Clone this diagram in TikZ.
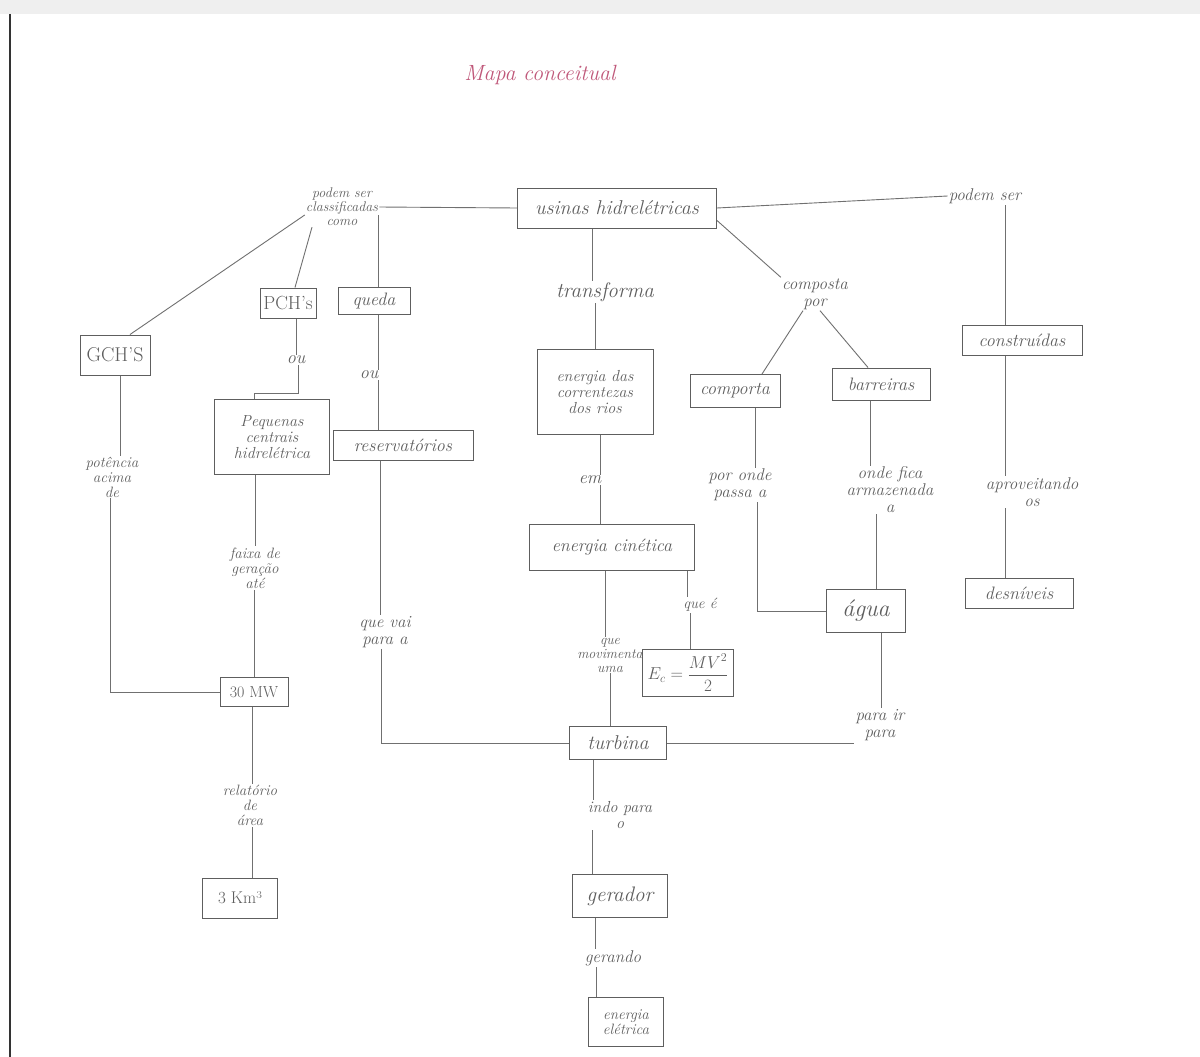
\documentclass[tikz,border=0pt]{standalone}
\usepackage{fontspec}
\definecolor{pencil}{HTML}{5E5E5E}
\definecolor{linegray}{HTML}{707070}
\definecolor{titlec}{HTML}{C0587A}
\definecolor{topband}{HTML}{EFEFEF}
\newcommand\fs[1]{\fontsize{#1}{#1}\selectfont}
% vertical connector from a (shifted) anchor down/up to the level of another anchor
\newcommand\vlink[2]{\draw[link] (#1) coordinate (tmp) -- (tmp |- #2);}
\begin{document}
\begin{tikzpicture}[x=1pt,y=-1pt,
  every node/.style={text=pencil, font=\itshape\fs{18}},
  box/.style={draw=pencil, line width=1pt, inner sep=2pt, align=center},
  lbl/.style={align=center, inner sep=1pt},
  link/.style={draw=linegray, line width=0.9pt}]
\useasboundingbox (0,0) rectangle (1200,1057);
\fill[white] (0,0) rectangle (1200,1057);
\fill[topband] (0,0) rectangle (1200,14);
\draw[black!80, line width=1.6pt] (10,14) -- (10,1057);

% title
\node[text=titlec, font=\itshape\fs{22}] (title) at (540,75) {Mapa conceitual};

% central concept
\node[box, font=\itshape\fs{20}, minimum width=199, minimum height=40] (usinas) at (617,208) {usinas hidrelétricas};

% left branch
\node[lbl, font=\itshape\fs{14}] (pcc) at (342,207) {podem ser\\classificadas\\como};
\node[box, font=\fs{20}\normalfont, minimum width=70, minimum height=40] (gch) at (115,355) {GCH'S};
\node[box, font=\fs{19}\normalfont, minimum width=56, minimum height=30] (pch) at (288,303) {PCH's};
\node[box, minimum width=72, minimum height=27] (queda) at (374,301) {queda};
\node[lbl] (ou1) at (296,360) {ou};
\node[lbl] (ou2) at (369,375) {ou};
\node[box, font=\itshape\fs{16}, minimum width=115, minimum height=75] (peq) at (272,437) {Pequenas\\centrais\\hidrelétrica};
\node[box, minimum width=140, minimum height=30] (reserv) at (403,445) {reservatórios};
\node[lbl, font=\itshape\fs{15}] (pot) at (112,477) {potência\\acima\\de};
\node[lbl, font=\itshape\fs{15}] (faixa) at (255,568) {faixa de\\geração\\até};
\node[box, font=\fs{16}\normalfont, minimum width=68, minimum height=29] (mw) at (254,692) {30 MW};
\node[lbl, font=\itshape\fs{15}] (rel) at (250,805) {relatório\\de\\área};
\node[box, font=\fs{17}\normalfont, minimum width=75, minimum height=40] (km) at (240,898) {3 Km³};
\node[lbl, font=\itshape\fs{17}] (vai) at (385,632) {que vai\\para a};

% middle branch
\node[lbl, font=\itshape\fs{21}] (transf) at (605,292) {transforma};
\node[box, font=\itshape\fs{16}, minimum width=116, minimum height=85] (corr) at (595,392) {energia das\\correntezas\\dos rios};
\node[lbl] (em) at (590,480) {em};
\node[box, minimum width=165, minimum height=46] (cin) at (612,547) {energia cinética};
\node[lbl, font=\itshape\fs{15}] (quee) at (700,605) {que é};
\node[box, font=\fs{17}, minimum width=91, minimum height=47] (ec) at (688,673) {$E_c=\displaystyle\frac{MV^2}{2}$};
\node[lbl, font=\itshape\fs{14}] (quemov) at (610,655) {que\\movimenta\\uma};
\node[box, font=\itshape\fs{20}, minimum width=97, minimum height=33] (turb) at (618,743) {turbina};
\node[lbl, font=\itshape\fs{16}] (indo) at (620,815) {indo para\\o};
\node[box, font=\itshape\fs{21}, minimum width=95, minimum height=43] (ger) at (620,896) {gerador};
\node[lbl, font=\itshape\fs{17}] (gerando) at (613,958) {gerando};
\node[box, font=\itshape\fs{15}, minimum width=75, minimum height=49] (eel) at (626,1022) {energia\\elétrica};

% right-middle branch
\node[lbl, font=\itshape\fs{17}] (comp) at (815,294) {composta\\por};
\node[box, minimum width=90, minimum height=33] (comporta) at (735,391) {comporta};
\node[box, minimum width=98, minimum height=32] (barr) at (881,384) {barreiras};
\node[lbl, font=\itshape\fs{17}] (porond) at (740,485) {por onde\\passa a};
\node[lbl, font=\itshape\fs{17}] (ondef) at (890,490) {onde fica\\armazenada\\a};
\node[box, font=\itshape\fs{24}, minimum width=79, minimum height=43] (agua) at (866,611) {água};
\node[lbl, font=\itshape\fs{17}] (parair) at (880,725) {para ir\\para};

% right branch
\node[lbl, font=\itshape\fs{17}] (ps) at (985,196) {podem ser};
\node[box, minimum width=120, minimum height=30] (constr) at (1022,340) {construídas};
\node[lbl, font=\itshape\fs{17}] (aprov) at (1032,492) {aproveitando\\os};
\node[box, minimum width=108, minimum height=30] (desn) at (1019,593) {desníveis};

% connectors: top row
\draw[link] (pcc.east) -- (usinas.west);
\draw[link] (usinas.east) -- (ps.west);
\draw[link] ([yshift=8pt]usinas.south east) -- (comp.north west);

% left branch connectors
\coordinate (pccE) at ([yshift=-8pt]pcc.east);
\draw[link] ([yshift=-8pt]pcc.west) -- ([xshift=15pt]gch.north);
\draw[link] ([xshift=-30pt]pcc.south) -- ([xshift=7pt]pch.north);
\vlink{[xshift=4pt]queda.north}{pccE}
\vlink{[xshift=8pt]pch.south}{ou1.north}
\draw[link] ([xshift=2pt]ou1.south) |- ([xshift=-18pt,yshift=6pt]peq.north) -- ([xshift=-18pt]peq.north);
\vlink{[xshift=4pt]queda.south}{ou2.north}
\vlink{[xshift=-25pt]reserv.north}{ou2.south}
\vlink{[xshift=5pt]gch.south}{pot.north}
\draw[link] ([xshift=-2pt]pot.south) |- (mw.west);
\vlink{[xshift=-17pt]peq.south}{faixa.north}
\vlink{mw.north}{faixa.south}
\vlink{[xshift=-2pt]mw.south}{rel.north}
\vlink{[xshift=12pt]km.north}{rel.south}
\vlink{[xshift=-23pt]reserv.south}{vai.north}
\draw[link] ([xshift=-4pt]vai.south) |- (turb.west);

% middle branch connectors
\vlink{[xshift=-25pt]usinas.south}{transf.north}
\vlink{corr.north}{transf.south}
\vlink{[xshift=5pt]corr.south}{em.north}
\vlink{[xshift=-12pt]cin.north}{em.south}
\vlink{[xshift=-7pt]cin.south}{quemov.north}
\vlink{[xshift=-8pt]turb.north}{quemov.south}
\vlink{[xshift=75pt]cin.south}{quee.north}
\vlink{[xshift=2pt]ec.north}{quee.south}
\vlink{[xshift=-25pt]turb.south}{indo.north}
\vlink{[xshift=-28pt]ger.north}{indo.south}
\vlink{[xshift=-25pt]ger.south}{gerando.north}
\vlink{[xshift=-30pt]eel.north}{gerando.south}

% right-middle branch connectors
\draw[link] ([xshift=-12pt]comp.south) -- ([xshift=27pt]comporta.north);
\draw[link] ([xshift=5pt]comp.south) -- ([xshift=-13pt]barr.north);
\vlink{[xshift=20pt]comporta.south}{porond.north}
\draw[link] ([xshift=17pt]porond.south) |- (agua.west);
\vlink{[xshift=-11pt]barr.south}{ondef.north}
\vlink{[xshift=10pt]agua.north}{ondef.south}
\vlink{[xshift=15pt]agua.south}{parair.north}
\draw[link] (turb.east) -- (turb.east -| parair.west);

% right branch connectors
\vlink{[xshift=-17pt]constr.north}{ps.south}
\vlink{[xshift=-17pt]constr.south}{aprov.north}
\vlink{[xshift=-14pt]desn.north}{aprov.south}
\end{tikzpicture}
\end{document}
